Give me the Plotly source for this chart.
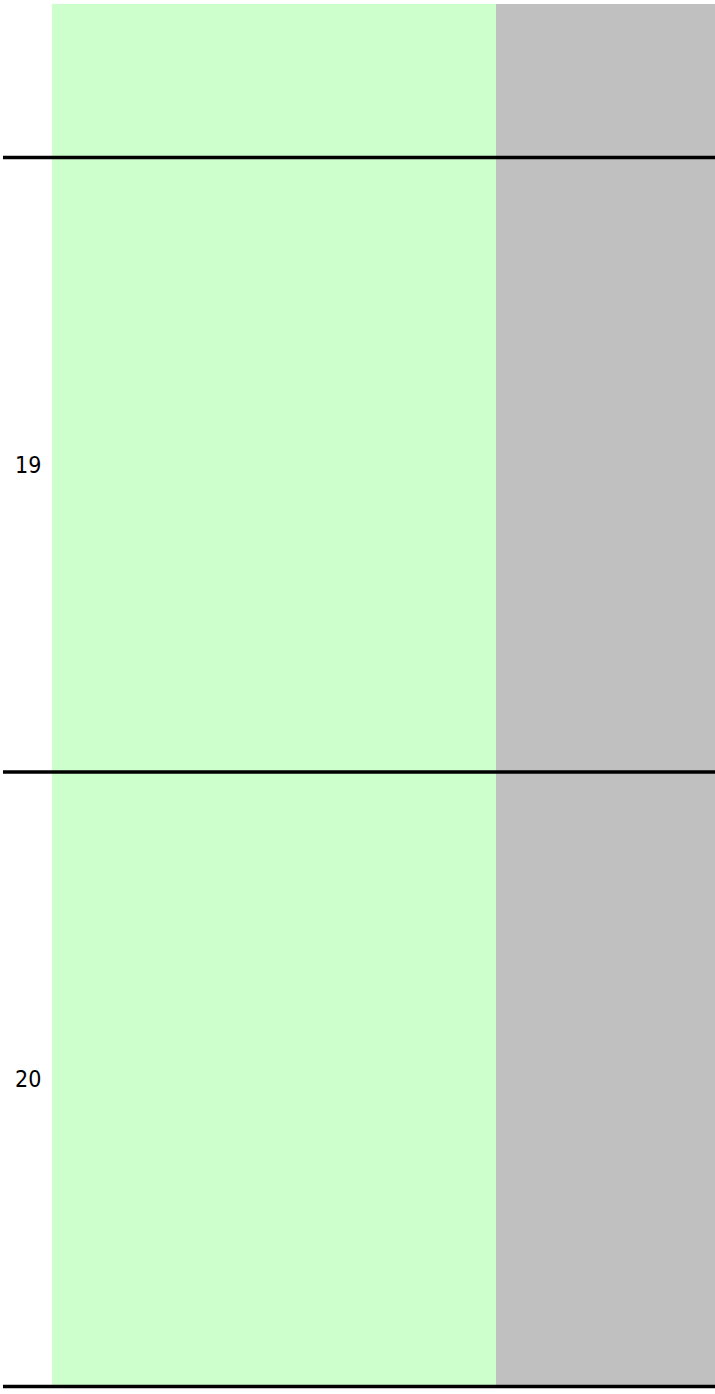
import plotly.graph_objects as go

# Data
categories = [18, 19, 20]
green_values = [67, 67, 67]
gray_values = [33, 33, 33]
tick_values = [19, 20]
tick_labels = ["19", "20"]
boundaries = [18.5, 19.5, 20.5]

W, H = 715, 1394
ML, MR, MT, MB = 52, 0, 4, 4
plot_w = W - ML - MR
plot_h = H - MT - MB

# pixel geometry of the category bands
px_per_unit = 614.5
first_line_px = 157.5
y_top = boundaries[0] - (first_line_px - MT) / px_per_unit
y_bottom = y_top + plot_h / px_per_unit

fig = go.Figure()
fig.add_trace(go.Bar(
    y=categories, x=green_values, orientation="h",
    marker=dict(color="#CCFFCC", line=dict(width=0)),
    hoverinfo="skip", showlegend=False,
))
fig.add_trace(go.Bar(
    y=categories, x=gray_values, orientation="h",
    marker=dict(color="#C0C0C0", line=dict(width=0)),
    hoverinfo="skip", showlegend=False,
))

for b in boundaries:
    fig.add_shape(
        type="line", xref="paper", yref="y",
        x0=-49 / plot_w, x1=1, y0=b, y1=b,
        line=dict(color="black", width=3.5),
        layer="above",
    )

fig.update_layout(
    width=W, height=H,
    margin=dict(l=ML, r=MR, t=MT, b=MB, pad=0),
    barmode="stack", bargap=0,
    plot_bgcolor="white", paper_bgcolor="white",
    font=dict(family="DejaVu Sans Condensed, DejaVu Sans", size=23, color="black"),
    xaxis=dict(range=[0, 100], visible=False, showgrid=False, zeroline=False, fixedrange=True),
    yaxis=dict(
        range=[y_bottom, y_top], tickvals=tick_values, ticktext=tick_labels,
        showgrid=False, zeroline=False, showline=False,
        ticks="outside", ticklen=5, tickcolor="rgba(0,0,0,0)", fixedrange=True,
    ),
)

fig.write_html(
    "out.html",
    config={"displayModeBar": False},
    post_script="document.body.style.margin='0';",
)
